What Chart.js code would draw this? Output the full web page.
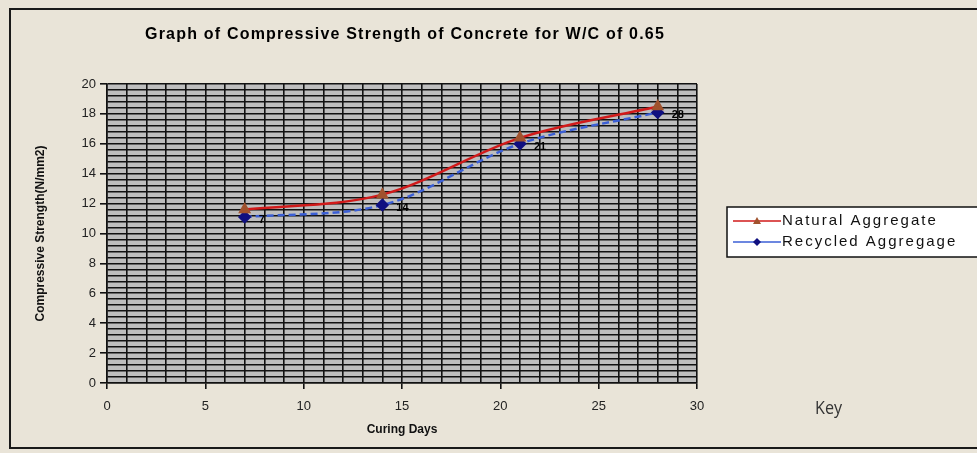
<!DOCTYPE html>
<html>
<head>
<meta charset="utf-8">
<script src="https://cdn.jsdelivr.net/npm/chart.js@4.4.1/dist/chart.umd.min.js"></script>
<style>
  html, body { margin: 0; padding: 0; background: #e9e4d8; }
  #wrap { position: relative; width: 977px; height: 453px; overflow: hidden; }
  #frame { position: absolute; left: 9px; top: 8px; width: 990px; height: 441px;
           border: 2px solid #1a1a1a; box-sizing: border-box; pointer-events: none; }
  #key { position: absolute; left: 815px; top: 394px; font: 19px "Open Sans", sans-serif;
         color: #333; transform: scaleX(0.85); transform-origin: left top; }
</style>
</head>
<body>
<div id="wrap">
  <canvas id="chart" width="977" height="453"></canvas>
  <div id="frame"></div>
  <div id="key">Key</div>
</div>
<script>
var days = [7, 14, 21, 28];
var naturalAggregate = [11.6, 12.6, 16.4, 18.5];
var recycledAggregate = [11.1, 11.9, 16.0, 18.1];
var pointLabels = ["7", "14", "21", "28"];
var seriesNames = ["Natural Aggregate", "Recycled Aggregage"];
var chartTitle = "Graph of Compressive Strength of Concrete for W/C of 0.65";

var isMultiple = function (v, step) {
  return Math.abs(v / step - Math.round(v / step)) < 1e-6;
};

var toPoints = function (values) {
  return days.map(function (d, i) { return { x: d, y: values[i] }; });
};

// fills the plot area grey and draws title, point labels and the legend box
var decorations = {
  id: "decorations",
  beforeDraw: function (chart) {
    var a = chart.chartArea, ctx = chart.ctx;
    ctx.save();
    ctx.fillStyle = "#bebebe";
    ctx.fillRect(a.left, a.top, a.right - a.left, a.bottom - a.top);
    ctx.restore();
  },
  afterDraw: function (chart) {
    var ctx = chart.ctx;
    var meta = chart.getDatasetMeta(1);
    ctx.save();
    ctx.fillStyle = "#000";
    ctx.font = "bold 16px 'Liberation Sans', Arial, sans-serif";
    ctx.letterSpacing = "1.2px";
    ctx.textAlign = "center";
    ctx.textBaseline = "middle";
    ctx.fillText(chartTitle, 405, 35);

    ctx.letterSpacing = "0px";
    ctx.font = "bold 11px 'Liberation Sans', Arial, sans-serif";
    ctx.textAlign = "left";
    meta.data.forEach(function (pt, i) {
      ctx.fillText(pointLabels[i], pt.x + 14, pt.y + 3);
    });

    // legend
    var lx = 727, ly = 207;
    ctx.fillStyle = "#fff";
    ctx.fillRect(lx, ly, 260, 50);
    ctx.strokeStyle = "#111";
    ctx.lineWidth = 1.5;
    ctx.strokeRect(lx, ly, 260, 50);
    ctx.font = "15px 'Liberation Sans', Arial, sans-serif";
    ctx.letterSpacing = "2px";
    ctx.textBaseline = "middle";
    chart.data.datasets.forEach(function (ds, i) {
      var y = ly + 14 + i * 21;
      ctx.strokeStyle = ds.borderColor;
      ctx.lineWidth = 1.5;
      ctx.beginPath();
      ctx.moveTo(lx + 6, y);
      ctx.lineTo(lx + 54, y);
      ctx.stroke();
      ctx.fillStyle = ds.pointBackgroundColor;
      ctx.beginPath();
      if (i === 0) {
        ctx.moveTo(lx + 30, y - 4); ctx.lineTo(lx + 34, y + 3); ctx.lineTo(lx + 26, y + 3);
      } else {
        ctx.moveTo(lx + 30, y - 4); ctx.lineTo(lx + 34, y); ctx.lineTo(lx + 30, y + 4); ctx.lineTo(lx + 26, y);
      }
      ctx.closePath();
      ctx.fill();
      ctx.fillStyle = "#111";
      ctx.fillText(ds.label, lx + 55, y);
    });
    ctx.restore();
  }
};

new Chart(document.getElementById("chart"), {
  type: "line",
  data: {
    datasets: [{
      label: seriesNames[0],
      data: toPoints(naturalAggregate),
      borderColor: "#d11a1a",
      borderWidth: 2.5,
      pointStyle: "triangle",
      pointRadius: 5,
      pointBackgroundColor: "#a0522d",
      pointBorderColor: "#a0522d",
      tension: 0.4,
      cubicInterpolationMode: "monotone"
    }, {
      label: seriesNames[1],
      data: toPoints(recycledAggregate),
      borderColor: "#3b5fd6",
      borderWidth: 2.5,
      borderDash: [7, 4],
      pointStyle: "rectRot",
      pointRadius: 5,
      pointBackgroundColor: "#101080",
      pointBorderColor: "#101080",
      tension: 0.4,
      cubicInterpolationMode: "monotone"
    }]
  },
  options: {
    responsive: false,
    animation: false,
    layout: { padding: { top: 84, right: 280, left: 0, bottom: 16 } },
    plugins: { legend: { display: false }, tooltip: { enabled: false } },
    scales: {
      x: {
        type: "linear",
        min: 0, max: 30,
        afterFit: function (s) { s.height = 54; },
        ticks: {
          stepSize: 1, autoSkip: false, maxRotation: 0,
          color: "#222", padding: 10,
          font: { family: "'Liberation Sans', Arial, sans-serif", size: 13 },
          callback: function (v) { return isMultiple(v, 5) ? v : ""; }
        },
        grid: {
          color: "#111", lineWidth: 1.6, tickLength: 6,
          tickColor: function (c) { return c.tick && isMultiple(c.tick.value, 5) ? "#111" : "rgba(0,0,0,0)"; }
        },
        border: { color: "#111", width: 1.5 },
        title: {
          display: true, text: "Curing Days", color: "#111", padding: { top: 2, bottom: 0 },
          font: { family: "'Liberation Sans', Arial, sans-serif", size: 12, weight: "bold" }
        }
      },
      y: {
        min: 0, max: 20,
        afterFit: function (s) { s.width = 107; },
        ticks: {
          stepSize: 0.4, autoSkip: false,
          color: "#222", padding: 4,
          font: { family: "'Liberation Sans', Arial, sans-serif", size: 13 },
          callback: function (v) { return isMultiple(v, 2) ? Math.round(v) : ""; }
        },
        grid: {
          color: "#111", lineWidth: 1.6, tickLength: 7,
          tickColor: function (c) { return c.tick && isMultiple(c.tick.value, 2) ? "#111" : "rgba(0,0,0,0)"; }
        },
        border: { color: "#111", width: 1.5 },
        title: {
          display: true, text: "Compressive Strength(N/mm2)", color: "#111", padding: { top: 33 },
          font: { family: "'Liberation Sans', Arial, sans-serif", size: 12, weight: "bold" }
        }
      }
    }
  },
  plugins: [decorations]
});
</script>
</body>
</html>
